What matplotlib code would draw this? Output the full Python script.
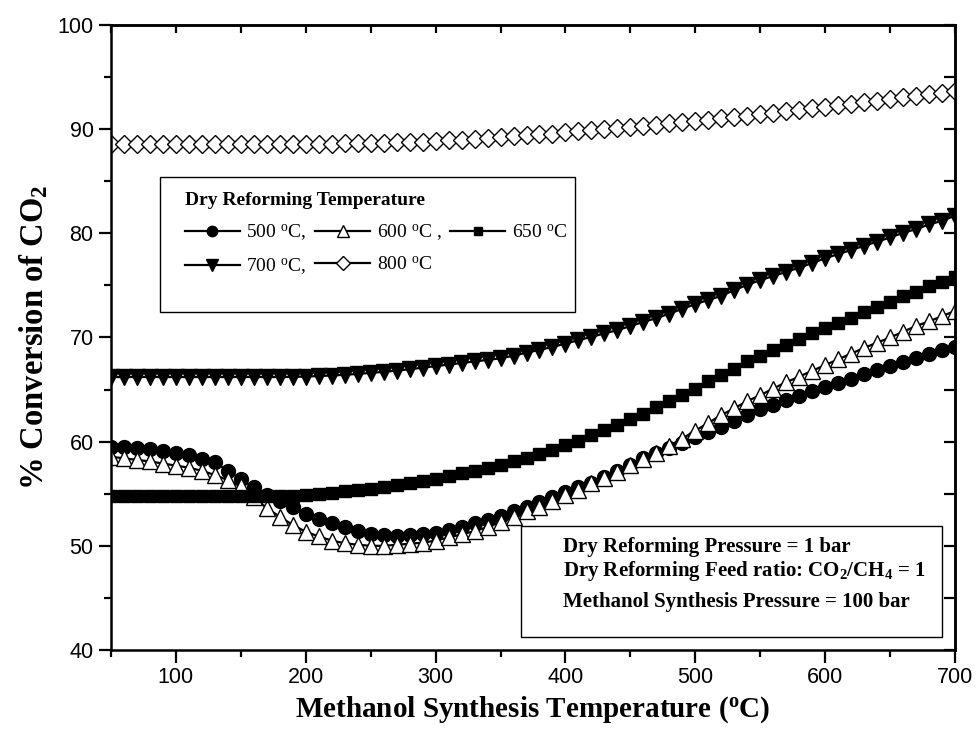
import matplotlib
matplotlib.use("Agg")
import matplotlib.pyplot as plt
from matplotlib.patches import Rectangle
from matplotlib.ticker import MultipleLocator

plt.rcParams["font.family"] = ["Liberation Serif", "DejaVu Serif"]
plt.rcParams["mathtext.fontset"] = "custom"
plt.rcParams["mathtext.rm"] = "Liberation Serif"
plt.rcParams["mathtext.it"] = "Liberation Serif:italic"
plt.rcParams["mathtext.bf"] = "Liberation Serif:bold"

# Methanol synthesis temperature (degC), one point every 10 degC
synth_temp = list(range(50, 701, 10))

# CO2 conversion (%) for each dry reforming temperature
conv_500 = [59.5, 59.45, 59.35, 59.25, 59.1, 58.95, 58.7, 58.35, 58.0, 57.2,
            56.4, 55.6, 54.9, 54.3, 53.7, 53.1, 52.6, 52.15, 51.8, 51.4,
            51.15, 51.05, 50.95, 51.0, 51.1, 51.25, 51.5, 51.8, 52.15, 52.5,
            52.9, 53.35, 53.75, 54.25, 54.65, 55.15, 55.6, 56.05, 56.6, 57.2,
            57.8, 58.4, 58.95, 59.4, 59.85, 60.45, 60.95, 61.45, 62.0, 62.6,
            63.1, 63.5, 64.0, 64.4, 64.85, 65.25, 65.65, 66.05, 66.45, 66.85,
            67.25, 67.65, 68.05, 68.4, 68.8, 69.1]
conv_600 = [58.55, 58.4, 58.25, 58.1, 57.9, 57.7, 57.5, 57.2, 56.8, 56.3,
            55.7, 54.7, 53.6, 52.8, 52.0, 51.35, 50.9, 50.5, 50.25, 50.1,
            50.0, 50.0, 50.1, 50.2, 50.3, 50.5, 50.8, 51.1, 51.4, 51.8,
            52.3, 52.8, 53.3, 53.75, 54.3, 54.9, 55.4, 56.0, 56.55, 57.1,
            57.75, 58.35, 58.95, 59.6, 60.3, 61.05, 61.8, 62.55, 63.2, 63.9,
            64.45, 65.1, 65.7, 66.25, 66.8, 67.35, 67.9, 68.45, 69.0, 69.5,
            70.0, 70.55, 71.1, 71.55, 72.05, 72.55]
conv_650 = [54.8, 54.78, 54.77, 54.76, 54.75, 54.75, 54.74, 54.74, 54.74, 54.74,
            54.75, 54.75, 54.76, 54.78, 54.82, 54.9, 55.0, 55.1, 55.22, 55.35,
            55.5, 55.65, 55.82, 56.0, 56.2, 56.45, 56.7, 56.95, 57.2, 57.45,
            57.75, 58.1, 58.45, 58.8, 59.2, 59.65, 60.1, 60.6, 61.1, 61.6,
            62.15, 62.7, 63.3, 63.9, 64.5, 65.1, 65.8, 66.4, 67.0, 67.7,
            68.2, 68.8, 69.3, 69.85, 70.4, 70.9, 71.4, 71.9, 72.45, 72.95,
            73.45, 73.95, 74.4, 74.9, 75.3, 75.8]
conv_700 = [66.2, 66.2, 66.2, 66.2, 66.2, 66.2, 66.2, 66.2, 66.2, 66.2,
            66.2, 66.2, 66.2, 66.2, 66.22, 66.25, 66.3, 66.35, 66.42, 66.5,
            66.6, 66.7, 66.82, 66.95, 67.1, 67.25, 67.4, 67.55, 67.7, 67.85,
            68.0, 68.25, 68.55, 68.8, 69.1, 69.4, 69.75, 70.05, 70.4, 70.7,
            71.1, 71.5, 71.85, 72.3, 72.75, 73.2, 73.6, 74.0, 74.55, 75.05,
            75.5, 75.9, 76.3, 76.7, 77.15, 77.6, 78.0, 78.4, 78.8, 79.2,
            79.6, 80.05, 80.4, 80.85, 81.2, 81.7]
conv_800 = [88.6, 88.6, 88.6, 88.6, 88.6, 88.6, 88.6, 88.6, 88.6, 88.6,
            88.6, 88.6, 88.6, 88.6, 88.6, 88.6, 88.61, 88.62, 88.63, 88.64,
            88.65, 88.68, 88.72, 88.76, 88.81, 88.87, 88.93, 89.0, 89.07, 89.15,
            89.23, 89.31, 89.4, 89.49, 89.58, 89.68, 89.78, 89.88, 89.98, 90.09,
            90.2, 90.31, 90.43, 90.55, 90.67, 90.8, 90.92, 91.05, 91.18, 91.31,
            91.45, 91.59, 91.73, 91.87, 92.01, 92.15, 92.3, 92.45, 92.6, 92.75,
            92.9, 93.05, 93.2, 93.36, 93.52, 93.68]

deg = r"$^{\mathrm{o}}$C"
fig = plt.figure(figsize=(9.76, 7.29), dpi=100)
ax = fig.add_axes([0.1137, 0.1084, 0.8648, 0.8573])

style = dict(color="black", lw=1.6, mec="black")
l500, = ax.plot(synth_temp, conv_500, marker="o", ms=10, mfc="black", mew=1, label="500 " + deg + ",", **style)
l600, = ax.plot(synth_temp, conv_600, marker="^", ms=11, mfc="white", mew=1, label="600 " + deg + " ,", **style)
l650, = ax.plot(synth_temp, conv_650, marker="s", ms=8.5, mfc="black", mew=1, label="650 " + deg, **style)
l700, = ax.plot(synth_temp, conv_700, marker="v", ms=11, mfc="black", mew=1, label="700 " + deg + ",", **style)
l800, = ax.plot(synth_temp, conv_800, marker="D", ms=9.5, mfc="white", mew=1, label="800 " + deg, **style)

ax.set_xlim(50, 700)
ax.set_ylim(40, 100)
ax.xaxis.set_major_locator(MultipleLocator(100))
ax.xaxis.set_minor_locator(MultipleLocator(50))
ax.yaxis.set_major_locator(MultipleLocator(10))
ax.yaxis.set_minor_locator(MultipleLocator(5))
for s in ax.spines.values():
    s.set_linewidth(1.8)
ax.tick_params(which="both", direction="out", width=1.6, top=False, right=False)
ax.tick_params(which="major", length=9)
ax.tick_params(which="minor", length=5)
for lab in ax.get_xticklabels() + ax.get_yticklabels():
    lab.set_family(["Liberation Sans Narrow", "Liberation Sans"])
    lab.set_fontsize(15.5)

# inward ticks on the opposite axes
top = ax.secondary_xaxis("top")
top.set_xticks(range(100, 701, 100))
top.xaxis.set_minor_locator(MultipleLocator(50))
top.tick_params(which="both", direction="in", length=6, width=1.6, labeltop=False)
right = ax.secondary_yaxis("right")
right.set_yticks(range(40, 101, 10))
right.yaxis.set_minor_locator(MultipleLocator(5))
right.tick_params(which="both", direction="in", length=8, width=1.6, labelright=False)
for sp in (top.spines["top"], right.spines["right"]):
    sp.set_linewidth(1.8)

ax.set_xlabel(r"Methanol Synthesis Temperature ($^{\mathbf{o}}$C)", fontsize=21, fontweight="bold", labelpad=4)
ax.set_ylabel(r"% Conversion of CO$_{\mathbf{2}}$", fontsize=23.5, fontweight="bold", labelpad=5)

# legend frame is a fixed box, larger than its content
ax.add_patch(Rectangle((0.058, 0.541), 0.492, 0.216, transform=ax.transAxes,
                       facecolor="white", edgecolor="black", lw=1.0, zorder=4))
handles = [l500, l700, l600, l800, l650]
leg = ax.legend(handles=handles, ncol=3, loc="upper left", bbox_to_anchor=(0.088, 0.733),
                title="Dry Reforming Temperature", title_fontproperties={"weight": "bold", "size": 14},
                prop={"size": 14}, alignment="left", frameon=False, markerscale=0.75,
                handlelength=2.8, handletextpad=0.35, columnspacing=0.45, borderpad=0.0,
                borderaxespad=0.0, labelspacing=0.7)
leg.set_zorder(5)

# operating conditions box
ax.add_patch(Rectangle((0.486, 0.0208), 0.498, 0.1772, transform=ax.transAxes,
                       facecolor="white", edgecolor="black", lw=1.0, zorder=5))
cond = ["Dry Reforming Pressure = 1 bar",
        r"Dry Reforming Feed ratio: CO$_{\mathbf{2}}$/CH$_{\mathbf{4}}$ = 1",
        "Methanol Synthesis Pressure = 100 bar"]
for txt, yy in zip(cond, [0.165, 0.1264, 0.0768]):
    ax.text(0.535, yy, txt, transform=ax.transAxes, fontsize=15, fontweight="bold",
            va="center", ha="left", zorder=6)

fig.savefig("out.png", dpi=100)
